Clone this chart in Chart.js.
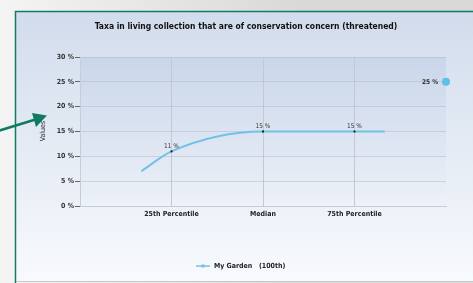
<!DOCTYPE html>
<html>
<head>
<meta charset="utf-8">
<script src="https://cdn.jsdelivr.net/npm/chart.js@4"></script>
<style>
  html, body { margin: 0; padding: 0; background: #fff; }
  #wrap { width: 473px; height: 283px; }
</style>
</head>
<body>
<div id="wrap"><canvas id="chart" width="473" height="283"></canvas></div>
<script>
// data
const categories = ["25th Percentile", "Median", "75th Percentile"];
const categoryPos = [1, 2, 3];
const gardenPos = [0.67, 1, 2, 3, 3.33];
const gardenValues = [7, 11, 15, 15, 15];
const gardenLabels = ["", "11 %", "15 %", "15 %", ""];
const myGardenValue = 25;
const yTicks = [0, 5, 10, 15, 20, 25, 30];

const FONT = "'DejaVu Sans Condensed', 'DejaVu Sans', sans-serif";
const lineBlue = "#6fc2e6";

const frame = {
  id: "frame",
  beforeDraw(chart) {
    const ctx = chart.ctx;
    const a = chart.chartArea;
    ctx.save();
    // outer background
    let g = ctx.createLinearGradient(0, 0, 300, 0);
    g.addColorStop(0, "#f4f4f4");
    g.addColorStop(1, "#d9d9d9");
    ctx.fillStyle = g;
    ctx.fillRect(0, 0, 473, 283);
    // panel
    g = ctx.createLinearGradient(0, 12, 0, 281);
    g.addColorStop(0, "#d1dcec");
    g.addColorStop(1, "#f8fafd");
    ctx.fillStyle = g;
    ctx.fillRect(16, 12, 473, 269);
    // plot area
    g = ctx.createLinearGradient(0, a.top, 0, a.bottom);
    g.addColorStop(0, "#c9d6ea");
    g.addColorStop(1, "#edf1f8");
    ctx.fillStyle = g;
    ctx.fillRect(a.left, a.top, a.right - a.left, a.bottom - a.top);
    // borders
    ctx.strokeStyle = "#127b64";
    ctx.lineWidth = 1.5;
    ctx.beginPath();
    ctx.moveTo(15.5, 290);
    ctx.lineTo(15.5, 11.5);
    ctx.lineTo(480, 11.5);
    ctx.stroke();
    ctx.strokeStyle = "#c9c9c9";
    ctx.lineWidth = 1;
    ctx.beginPath();
    ctx.moveTo(16, 281.5);
    ctx.lineTo(480, 281.5);
    ctx.stroke();
    ctx.restore();
  },
  afterDatasetsDraw(chart) {
    const ctx = chart.ctx;
    const meta = chart.getDatasetMeta(0);
    ctx.save();
    ctx.font = "6.5px " + FONT;
    ctx.fillStyle = "#333";
    ctx.textAlign = "center";
    ctx.textBaseline = "bottom";
    meta.data.forEach((pt, i) => {
      if (gardenLabels[i]) ctx.fillText(gardenLabels[i], pt.x, pt.y - 2);
    });
    const p = chart.getDatasetMeta(1).data[0];
    ctx.font = "bold 6.5px " + FONT;
    ctx.textAlign = "right";
    ctx.textBaseline = "middle";
    ctx.fillText(myGardenValue + " %", p.x - 8, p.y);
    ctx.restore();
  },
  afterDraw(chart) {
    const ctx = chart.ctx;
    ctx.save();
    // title
    ctx.fillStyle = "#111";
    ctx.font = "bold 8.5px " + FONT;
    ctx.textAlign = "center";
    ctx.textBaseline = "middle";
    ctx.fillText("Taxa in living collection that are of conservation concern (threatened)", 246, 27);
    // y axis title
    ctx.save();
    ctx.translate(43, 131);
    ctx.rotate(-Math.PI / 2);
    ctx.font = "7px " + FONT;
    ctx.fillStyle = "#333";
    ctx.fillText("Values", 0, 0);
    ctx.restore();
    // legend
    ctx.strokeStyle = lineBlue;
    ctx.lineWidth = 1.5;
    ctx.beginPath();
    ctx.moveTo(196, 266);
    ctx.lineTo(210, 266);
    ctx.stroke();
    ctx.fillStyle = lineBlue;
    ctx.beginPath();
    ctx.arc(203, 266, 1.8, 0, Math.PI * 2);
    ctx.fill();
    ctx.fillStyle = "#222";
    ctx.font = "bold 7px " + FONT;
    ctx.textAlign = "left";
    ctx.fillText("My Garden   (100th)", 214, 266);
    // arrow
    ctx.strokeStyle = "#107a63";
    ctx.fillStyle = "#107a63";
    ctx.lineWidth = 2.5;
    ctx.beginPath();
    ctx.moveTo(-2, 131);
    ctx.lineTo(37, 119);
    ctx.stroke();
    ctx.beginPath();
    ctx.moveTo(47, 115.5);
    ctx.lineTo(32, 113);
    ctx.lineTo(36, 127);
    ctx.closePath();
    ctx.fill();
    ctx.restore();
  }
};

new Chart(document.getElementById("chart"), {
  type: "line",
  data: {
    datasets: [{
      label: "My Garden   (100th)",
      data: gardenPos.map((x, i) => ({ x: x, y: gardenValues[i] })),
      borderColor: lineBlue,
      borderWidth: 2,
      cubicInterpolationMode: "monotone",
      pointStyle: "rect",
      pointRadius: gardenLabels.map(l => l ? 1.3 : 0),
      pointBackgroundColor: "#111",
      pointBorderWidth: 0
    }, {
      label: "point",
      data: [{ x: 4, y: myGardenValue }],
      showLine: false,
      pointRadius: 4,
      pointBackgroundColor: "#5dbfea",
      pointBorderWidth: 0,
      clip: false
    }]
  },
  options: {
    responsive: false,
    animation: false,
    events: [],
    layout: { padding: { top: 57, right: 27, bottom: 57, left: 0 } },
    plugins: {
      legend: { display: false },
      title: { display: false },
      tooltip: { enabled: false }
    },
    scales: {
      x: {
        type: "linear",
        min: 0,
        max: 4,
        afterFit: s => { s.height = 20; },
        afterBuildTicks: s => { s.ticks = [0, ...categoryPos, 4].map(v => ({ value: v })); },
        border: { color: "#c6cdd8" },
        grid: {
          drawTicks: false,
          color: c => (c.tick.value === 0 || c.tick.value === 4) ? "rgba(0,0,0,0)" : "#c3c8d1"
        },
        ticks: {
          padding: 4,
          color: "#222",
          font: { family: FONT, size: 7, weight: "bold" },
          callback: v => categories[categoryPos.indexOf(v)] || ""
        }
      },
      y: {
        min: 0,
        max: 30,
        afterFit: s => { s.width = 80; },
        afterBuildTicks: s => { s.ticks = yTicks.map(v => ({ value: v })); },
        border: { color: "#c6cdd8" },
        grid: {
          color: "rgba(170,180,198,0.45)",
          tickColor: "#666",
          tickLength: 5
        },
        ticks: {
          padding: 1,
          color: "#333",
          font: { family: FONT, size: 7, weight: "bold" },
          callback: v => v + " %"
        }
      }
    }
  },
  plugins: [frame]
});
</script>
</body>
</html>
